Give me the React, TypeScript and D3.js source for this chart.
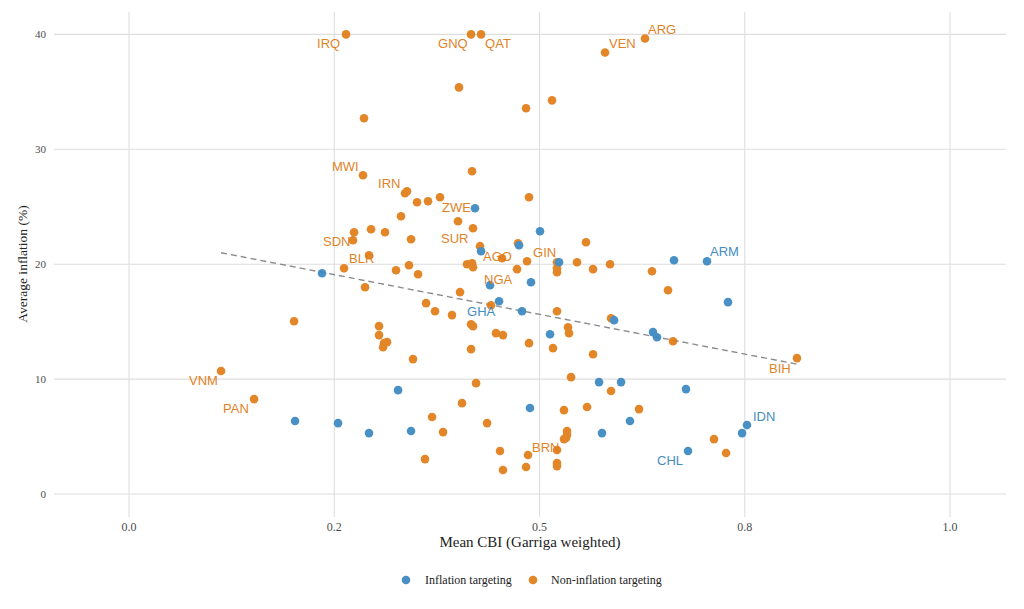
import React from "react";
import * as d3 from "d3";

// Inflation targeting countries (blue)
const itX = [0.4214, 0.5006, 0.475, 0.4288, 0.5238, 0.2351, 0.4397, 0.4896, 0.4507, 0.4787, 0.5128, 0.5908, 0.6382, 0.6431, 0.6638, 0.704, 0.7296, 0.5725, 0.5993, 0.6784, 0.6102, 0.5761, 0.7527, 0.7467, 0.6809, 0.2022, 0.2546, 0.2923, 0.3435, 0.3277, 0.4884];
const itY = [24.87, 22.87, 21.65, 21.13, 20.17, 19.22, 18.17, 18.43, 16.78, 15.91, 13.91, 15.13, 14.09, 13.65, 20.35, 20.26, 16.7, 9.74, 9.74, 9.13, 6.35, 5.3, 6.0, 5.3, 3.74, 6.35, 6.17, 5.3, 5.48, 9.04, 7.48];

// Non-inflation targeting countries (orange)
const nitX = [0.2643, 0.4166, 0.4288, 0.5798, 0.6285, 0.4019, 0.4836, 0.5152, 0.2862, 0.285, 0.4178, 0.3362, 0.3386, 0.3508, 0.3642, 0.3788, 0.4872, 0.3313, 0.4007, 0.419, 0.2741, 0.2948, 0.3118, 0.2728, 0.3435, 0.5566, 0.4275, 0.4738, 0.2923, 0.2619, 0.3252, 0.341, 0.352, 0.4117, 0.4178, 0.419, 0.4543, 0.4848, 0.4726, 0.5213, 0.5213, 0.5213, 0.5457, 0.5652, 0.5859, 0.637, 0.6565, 0.2875, 0.4032, 0.3618, 0.3727, 0.3934, 0.4409, 0.5213, 0.5871, 0.201, 0.3045, 0.3045, 0.3106, 0.3143, 0.3094, 0.4166, 0.419, 0.447, 0.4555, 0.5347, 0.5359, 0.4872, 0.5164, 0.5652, 0.4166, 0.3459, 0.6626, 0.8136, 0.5384, 0.5871, 0.4227, 0.1121, 0.1523, 0.4056, 0.3691, 0.3825, 0.4361, 0.5298, 0.5579, 0.6212, 0.5335, 0.5335, 0.5323, 0.5298, 0.5213, 0.486, 0.4519, 0.4836, 0.4555, 0.5213, 0.5213, 0.3605, 0.7125, 0.7272];
const nitY = [40, 40, 40, 38.43, 39.65, 35.39, 33.57, 34.26, 32.7, 27.74, 28.09, 26.17, 26.35, 25.39, 25.48, 25.83, 25.83, 24.17, 23.74, 23.13, 22.78, 23.04, 22.78, 22.09, 22.17, 21.91, 21.57, 21.83, 20.78, 19.65, 19.48, 19.91, 19.13, 20.0, 20.09, 19.74, 20.52, 20.26, 19.57, 20.17, 19.65, 19.3, 20.17, 19.57, 20.0, 19.39, 17.74, 18.0, 17.57, 16.61, 15.91, 15.57, 16.43, 15.91, 15.3, 15.04, 14.61, 13.83, 13.13, 13.22, 12.78, 14.78, 14.61, 14.0, 13.83, 14.52, 14.0, 13.13, 12.7, 12.17, 12.61, 11.74, 13.3, 11.83, 10.17, 8.96, 9.65, 10.7, 8.26, 7.91, 6.7, 5.39, 6.17, 7.3, 7.57, 7.39, 5.48, 5.13, 4.87, 4.78, 3.83, 3.39, 3.74, 2.35, 2.09, 2.7, 2.43, 3.04, 4.78, 3.57];

// Labelled countries: code, group, point values
const labelCodes = ["IRQ", "GNQ", "QAT", "VEN", "ARG", "MWI", "IRN", "ZWE", "SDN", "SUR", "AGO", "GIN", "BLR", "NGA", "GHA", "ARM", "BIH", "IDN", "CHL", "VNM", "PAN", "BRN"];
const labelGroup = ["N", "N", "N", "N", "N", "N", "N", "N", "N", "N", "N", "N", "N", "N", "I", "I", "N", "I", "I", "N", "N", "N"];
const labelX = [0.2643, 0.4166, 0.4288, 0.5798, 0.6285, 0.285, 0.3362, 0.4007, 0.2728, 0.419, 0.4275, 0.4848, 0.2923, 0.4032, 0.4507, 0.704, 0.8136, 0.7527, 0.6809, 0.1121, 0.1523, 0.5213];
const labelY = [40, 40, 40, 38.43, 39.65, 27.74, 26.17, 23.74, 22.09, 23.13, 21.57, 20.26, 20.78, 17.57, 16.78, 20.26, 11.83, 6.0, 3.74, 10.7, 8.26, 3.83];

// Repel offsets (layout, pixels)
const labelDx = [-29, -33, 4, 4, 3, -31, -27, -16, -30, -32, 3, 6, -20, 24, -32, 3, -28, 6, -31, -32, -31, -25];
const labelDy = [9, 9, 9, -9, -9, -9, -10, -14, 1, 10, 10, -9, 3, -13, 10, -10, 10, -9, 9, 9, 9, -3];

// Linear fit line
const trendX = [0.1121, 0.8136];
const trendY = [21.0, 11.3];

const xTicks = [0, 0.25, 0.5, 0.75, 1.0];
const xTickLabels = ["0.0", "0.2", "0.5", "0.8", "1.0"];
const yTicks = [0, 10, 20, 30, 40];

const legendLabels = ["Inflation targeting", "Non-inflation targeting"];

const BLUE = "#3a87c0";
const ORANGE = "#e07c16";
const SERIF = "'Liberation Serif', 'Times New Roman', serif";
const SANS = "'Liberation Sans', Arial, Helvetica, sans-serif";

export default function App() {
  const W = 1024;
  const H = 609;
  const panel = { left: 54, right: 1006, top: 12, bottom: 517 };
  const x = d3.scaleLinear().domain([-0.0914, 1.0682]).range([panel.left, panel.right]);
  const y = d3.scaleLinear().domain([-2, 41.95]).range([panel.bottom, panel.top]);

  const line = d3
    .line<number>()
    .x((_, i) => x(trendX[i]))
    .y((_, i) => y(trendY[i]));

  const r = 4.3;

  return (
    <svg
      width={W}
      height={H}
      style={{ position: "absolute", left: 0, top: 0, background: "#fff" }}
    >
      {/* grid */}
      <g>
        {yTicks.map((t) => (
          <line
            key={"gy" + t}
            x1={panel.left}
            x2={panel.right}
            y1={y(t)}
            y2={y(t)}
            stroke="#dedede"
            strokeWidth={1.1}
          />
        ))}
        {xTicks.map((t) => (
          <line
            key={"gx" + t}
            x1={x(t)}
            x2={x(t)}
            y1={panel.top}
            y2={panel.bottom}
            stroke="#dedede"
            strokeWidth={1.1}
          />
        ))}
      </g>

      {/* trend line */}
      <path
        d={line(trendX) || ""}
        fill="none"
        stroke="#8a8a8a"
        strokeWidth={1.4}
        strokeDasharray="6,4"
      />

      {/* points */}
      <g opacity={0.92}>
        {nitX.map((v, i) => (
          <circle key={"n" + i} cx={x(v)} cy={y(nitY[i])} r={r} fill={ORANGE} />
        ))}
        {itX.map((v, i) => (
          <circle key={"i" + i} cx={x(v)} cy={y(itY[i])} r={r} fill={BLUE} />
        ))}
      </g>

      {/* labels */}
      <g fontFamily={SANS} fontSize={13}>
        {labelCodes.map((c, i) => (
          <text
            key={c}
            x={x(labelX[i]) + labelDx[i]}
            y={y(labelY[i]) + labelDy[i]}
            dy="0.35em"
            fill={labelGroup[i] === "I" ? BLUE : ORANGE}
            opacity={0.95}
          >
            {c}
          </text>
        ))}
      </g>

      {/* axes text */}
      <g fontFamily={SERIF} fontSize={11} fill="#4d4d4d">
        {yTicks.map((t) => (
          <text key={"ty" + t} x={46} y={y(t)} dy="0.35em" textAnchor="end">
            {t}
          </text>
        ))}
      </g>
      <g fontFamily={SERIF} fontSize={12} fill="#4d4d4d">
        {xTicks.map((t, i) => (
          <text key={"tx" + t} x={x(t)} y={527} dy="0.35em" textAnchor="middle">
            {xTickLabels[i]}
          </text>
        ))}
      </g>
      <text
        x={530}
        y={542}
        dy="0.35em"
        textAnchor="middle"
        fontFamily={SERIF}
        fontSize={15}
        fill="#222"
      >
        Mean CBI (Garriga weighted)
      </text>
      <text
        transform={`translate(22,${264}) rotate(-90)`}
        dy="0.35em"
        textAnchor="middle"
        fontFamily={SERIF}
        fontSize={13.5}
        fill="#222"
      >
        Average inflation (%)
      </text>

      {/* legend */}
      <g fontFamily={SERIF} fontSize={12} fill="#222">
        <circle cx={406} cy={580} r={r} fill={BLUE} opacity={0.92} />
        <text x={425} y={580} dy="0.35em">
          {legendLabels[0]}
        </text>
        <circle cx={533} cy={580} r={r} fill={ORANGE} opacity={0.92} />
        <text x={551} y={580} dy="0.35em">
          {legendLabels[1]}
        </text>
      </g>
    </svg>
  );
}
